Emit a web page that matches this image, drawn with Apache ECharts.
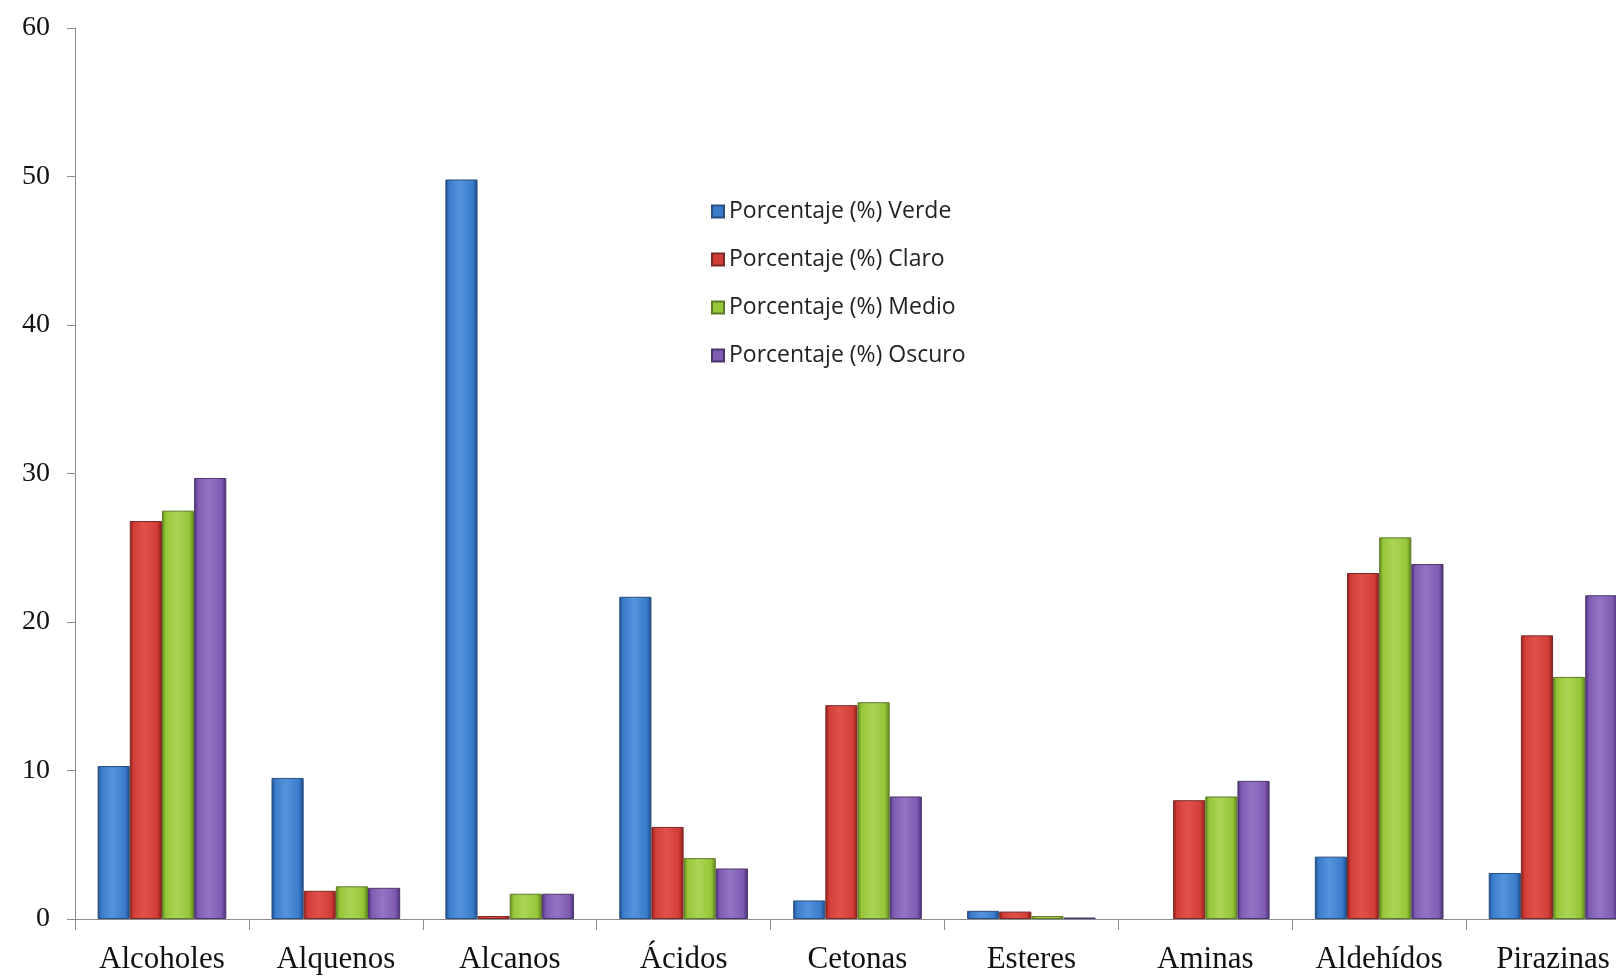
<!DOCTYPE html>
<html>
<head>
<meta charset="utf-8">
<script src="https://cdn.jsdelivr.net/npm/echarts@6/dist/echarts.min.js"></script>
<style>
  html, body { margin: 0; padding: 0; background: #fff; overflow: hidden; }
  #chart { width: 1616px; height: 976px; }
</style>
</head>
<body>
<div id="chart"></div>
<script>
// Compound families
const categories = ['Alcoholes', 'Alquenos', 'Alcanos', 'Ácidos', 'Cetonas', 'Esteres', 'Aminas', 'Aldehídos', 'Pirazinas'];

// Percentage of each family by roast level
const verde  = [10.3, 9.5, 49.8, 21.7, 1.25, 0.55, 0,   4.2, 3.1];
const claro  = [26.8, 1.9, 0.2,  6.2, 14.4,  0.5,  8.0, 23.3, 19.1];
const medio  = [27.5, 2.2, 1.7,  4.1, 14.6,  0.2,  8.25, 25.7, 16.3];
const oscuro = [29.7, 2.1, 1.7,  3.4, 8.25,  0.1,  9.3, 23.9, 21.8];

const seriesNames = ['Porcentaje (%) Verde', 'Porcentaje (%) Claro', 'Porcentaje (%) Medio', 'Porcentaje (%) Oscuro'];
const yTicks = [0, 10, 20, 30, 40, 50, 60];

// Shaded bar fills (dark edge, bright face, dark edge)
const palette = [
  { dark: '#1d4a88', mid: '#3a7ccc', light: '#5594dc', border: '#2a4f7c' },
  { dark: '#8a1d19', mid: '#d33d37', light: '#df524b', border: '#7a2a26' },
  { dark: '#5c861a', mid: '#97c638', light: '#abd455', border: '#5f7a2a' },
  { dark: '#482d74', mid: '#7f5bb2', light: '#9475c4', border: '#4a3668' }
];

function fill(p) {
  return new echarts.graphic.LinearGradient(0, 0, 1, 0, [
    { offset: 0, color: p.dark },
    { offset: 0.12, color: p.mid },
    { offset: 0.45, color: p.light },
    { offset: 0.85, color: p.mid },
    { offset: 1, color: p.dark }
  ]);
}

const dataSets = [verde, claro, medio, oscuro];

const chart = echarts.init(document.getElementById('chart'), null, { renderer: 'canvas' });

chart.setOption({
  backgroundColor: '#ffffff',
  animation: false,
  // plot area runs past the right edge of the canvas, cutting off the last group
  grid: {
    left: 75, width: 1565, top: 28, bottom: 57,
    containLabel: false,
    outerBoundsMode: 'none'
  },
  legend: {
    orient: 'vertical',
    left: 706,
    top: 195,
    itemWidth: 12,
    itemHeight: 12,
    itemGap: 25,
    icon: 'rect',
    textStyle: { fontFamily: 'Open Sans', fontSize: 23, color: '#222' },
    data: seriesNames.map((n, i) => ({ name: n, itemStyle: { color: palette[i].mid } }))
  },
  xAxis: {
    type: 'category',
    data: categories,
    boundaryGap: true,
    axisLine: { lineStyle: { color: '#8c8c8c', width: 1 } },
    axisTick: { show: true, length: 11, lineStyle: { color: '#8c8c8c' } },
    axisLabel: {
      interval: 0,
      margin: 25,
      fontFamily: 'Liberation Serif',
      fontSize: 31,
      color: '#111'
    }
  },
  yAxis: {
    type: 'value',
    min: yTicks[0],
    max: yTicks[yTicks.length - 1],
    interval: 10,
    splitLine: { show: false },
    axisLine: { show: true, lineStyle: { color: '#8c8c8c', width: 1 } },
    axisTick: { show: true, length: 8, lineStyle: { color: '#8c8c8c' } },
    axisLabel: {
      margin: 25,
      fontFamily: 'Liberation Serif',
      fontSize: 28,
      color: '#111'
    }
  },
  series: dataSets.map((d, i) => ({
    name: seriesNames[i],
    type: 'bar',
    data: d.map(v => ({ value: v, itemStyle: { borderWidth: v === 0 ? 0 : 1 } })),
    barGap: '0%',
    barCategoryGap: '26%',
    itemStyle: {
      color: fill(palette[i]),
      borderColor: palette[i].border,
      borderWidth: 1
    }
  }))
});
</script>
</body>
</html>
